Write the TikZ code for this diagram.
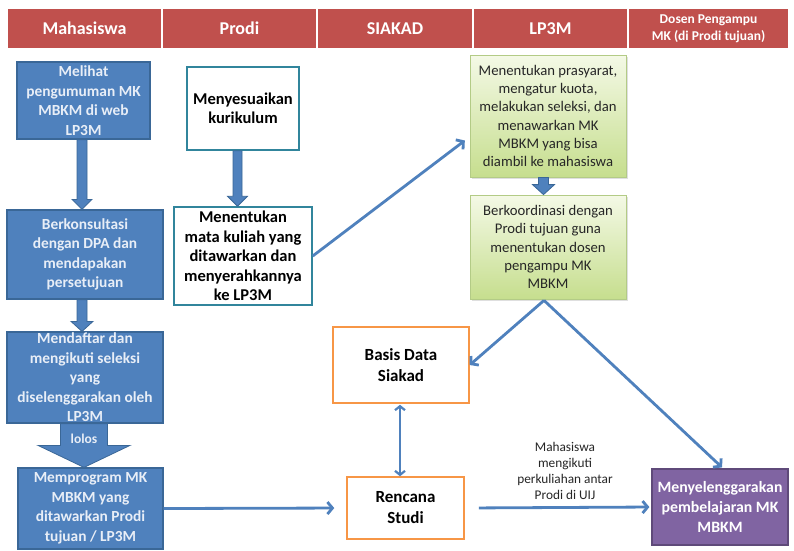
\documentclass[tikz,border=0pt]{standalone}
\usepackage{fontspec}
\setmainfont{Carlito}
\usetikzlibrary{arrows.meta,calc,shadows}
\definecolor{hdr}{HTML}{C0504D}
\definecolor{bl}{HTML}{4F81BD}
\definecolor{bld}{HTML}{3A6797}
\definecolor{bltx}{HTML}{E8EEF7}
\definecolor{tealb}{HTML}{31859C}
\definecolor{orb}{HTML}{F79646}
\definecolor{pu}{HTML}{8064A2}
\definecolor{pud}{HTML}{5F4A7A}
\definecolor{grt}{HTML}{F4F9E6}
\definecolor{grb}{HTML}{C6DE8E}
\definecolor{grd}{HTML}{B3CB86}
\definecolor{tx}{HTML}{262626}
% block arrow: from node, to node, x offset, shaft half width, head half width, head length
\newcommand{\blockarr}[6]{%
  \draw[blk] let \p1=($(#1.south)+(#3,0)$), \p2=(#2.north) in
    (\x1-#4,\y1) -- (\x1+#4,\y1) -- (\x1+#4,\y2+#6) -- (\x1+#5,\y2+#6) -- (\x1,\y2)
    -- (\x1-#5,\y2+#6) -- (\x1-#4,\y2+#6) -- cycle;}
\begin{document}
\begin{tikzpicture}[x=1pt,y=-1pt,
  hdrcell/.style={rectangle, fill=hdr, draw=white, line width=1.5pt, minimum height=41pt, inner sep=0pt, text=white, align=center},
  bluebox/.style={rectangle, draw=bld, line width=1.2pt, fill=bl, text=bltx, inner sep=0pt, align=center, font=\fontsize{15.4}{19.5}\selectfont\bfseries},
  prodibox/.style={rectangle, draw=tealb, line width=1.5pt, fill=white, text=black, inner sep=0pt, align=center, font=\fontsize{16.5}{19.5}\selectfont\bfseries},
  greenbox/.style={rectangle, draw=grd, line width=0.8pt, top color=grt, bottom color=grb, text=tx, inner sep=0pt, align=center, font=\fontsize{14.7}{18.3}\selectfont, drop shadow={shadow xshift=2pt, shadow yshift=-2pt, opacity=0.25}},
  orbox/.style={rectangle, draw=orb, line width=1.5pt, fill=white, text=black, inner sep=0pt, align=center, font=\fontsize{17}{21}\selectfont\bfseries},
  pubox/.style={rectangle, draw=pud, line width=1.2pt, fill=pu, text=white, inner sep=0pt, align=center, font=\fontsize{15.8}{20}\selectfont\bfseries},
  blk/.style={fill=bl, draw=bld, line width=0.8pt},
  conn/.style={draw=bl, line width=2.8pt, -{Straight Barb[length=5pt,width=12pt]}},
  dconn/.style={draw=bl, line width=2.2pt, {Straight Barb[length=4pt,width=10pt]}-{Straight Barb[length=4pt,width=10pt]}},
  lbl/.style={align=center, text=tx, font=\fontsize{13.3}{16}\selectfont}
]
\useasboundingbox (0,0) rectangle (794,550);
\fill[white] (0,0) rectangle (794,550);

% header
\node[hdrcell, minimum width=155pt, font=\fontsize{18}{20}\selectfont\bfseries] (h1) at (84.5,28.5) {Mahasiswa};
\node[hdrcell, minimum width=155pt, font=\fontsize{18}{20}\selectfont\bfseries] (h2) at (239.5,28.5) {Prodi};
\node[hdrcell, minimum width=156pt, font=\fontsize{18}{20}\selectfont\bfseries] (h3) at (395,28.5) {SIAKAD};
\node[hdrcell, minimum width=155pt, font=\fontsize{18}{20}\selectfont\bfseries] (h4) at (550.5,28.5) {LP3M};
\node[hdrcell, minimum width=161pt, font=\fontsize{13.5}{17}\selectfont\bfseries] (h5) at (708.5,28.5) {Dosen Pengampu\\MK (di Prodi tujuan)};

% Mahasiswa column
\node[bluebox, minimum width=133pt, minimum height=77pt] (m1) at (83.5,100.5) {Melihat\\pengumuman MK\\MBKM di web\\LP3M};
\node[bluebox, minimum width=156pt, minimum height=89pt] (m2) at (85,254.5) {Berkonsultasi\\dengan DPA dan\\mendapakan\\persetujuan};
\node[bluebox, minimum width=156pt, minimum height=91pt] (m3) at (85,377.5) {Mendaftar dan\\mengikuti seleksi\\yang\\diselenggarakan oleh\\LP3M};
\node[bluebox, minimum width=145pt, minimum height=81pt] (m4) at (90.5,508.5) {Memprogram MK\\MBKM yang\\ditawarkan Prodi\\tujuan / LP3M};

% Prodi column
\node[prodibox, minimum width=112pt, minimum height=83pt] (p1) at (243,108.5) {Menyesuaikan\\kurikulum};
\node[prodibox, minimum width=138pt, minimum height=98pt] (p2) at (243,256) {Menentukan\\mata kuliah yang\\ditawarkan dan\\menyerahkannya\\ke LP3M};

% LP3M column
\node[greenbox, minimum width=156pt, minimum height=122pt] (l1) at (548,116) {Menentukan prasyarat,\\mengatur kuota,\\melakukan seleksi, dan\\menawarkan MK\\MBKM yang bisa\\diambil ke mahasiswa};
\node[greenbox, minimum width=156pt, minimum height=104pt] (l2) at (548,247) {Berkoordinasi dengan\\Prodi tujuan guna\\menentukan dosen\\pengampu MK\\MBKM};

% SIAKAD
\node[orbox, minimum width=136pt, minimum height=76pt] (bd) at (401,365) {Basis Data\\Siakad};
\node[orbox, minimum width=117pt, minimum height=62pt] (rs) at (405.5,508) {Rencana\\Studi};

% Dosen
\node[pubox, minimum width=136pt, minimum height=76pt] (pm) at (720,507) {Menyelenggarakan\\pembelajaran MK\\MBKM};

% block arrows
\blockarr{m1}{m2}{-1.5pt}{5pt}{10pt}{10pt}
\blockarr{m2}{m3}{-3pt}{5pt}{11pt}{10pt}
\blockarr{m3}{m4}{-1pt}{23.5pt}{46pt}{22pt}
\node[text=bltx, font=\fontsize{13.5}{15}\selectfont\bfseries] (lolos) at ($(m3.south)+(-1,15)$) {lolos};
\blockarr{p1}{p2}{-5.5pt}{4.5pt}{10pt}{10pt}
\blockarr{l1}{l2}{-4.5pt}{5pt}{11pt}{10pt}

% connectors
\coordinate (v) at ($(l2.south)+(-4,1)$);
\coordinate (da) at ($(bd.south)+(-1,1)$);
\draw[conn, shorten >=6pt] (p2.east) -- ($(l1.south west)!0.33!(l1.north west)$);
\draw[conn] (v) -- (bd.east);
\draw[conn] (v) -- ($(pm.north)+(2,-1)$);
\draw[dconn] (da) -- (da |- rs.north);
\draw[conn, shorten >=12pt] (m4.east) -- (rs.west);
\draw[conn, shorten <=14pt, shorten >=2pt] (rs.east) -- (pm.west);
\node[lbl] (note) at (565,471) {Mahasiswa\\mengikuti\\perkuliahan antar\\Prodi di UIJ};
\end{tikzpicture}
\end{document}
